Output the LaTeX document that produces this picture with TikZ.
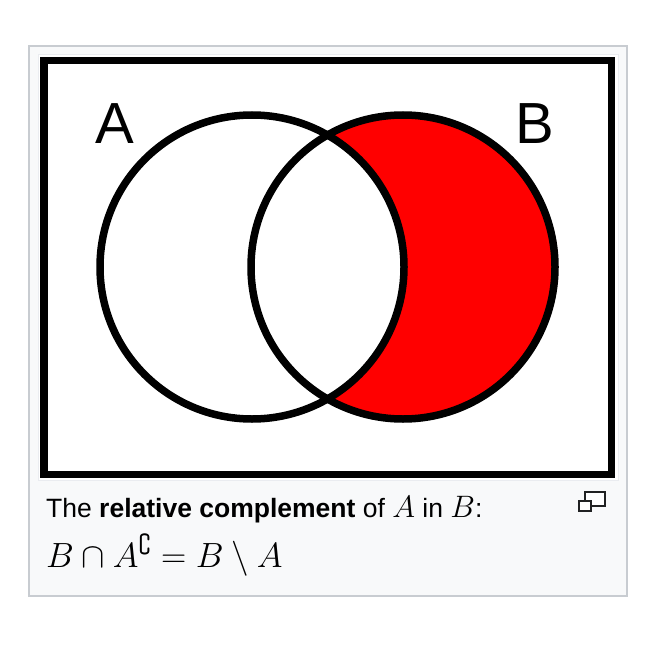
\RequirePackage{fix-cm}
\documentclass[tikz,border=0pt]{standalone}
\usepackage{amssymb}
\usepackage{fontspec}
\setmainfont{Liberation Sans}
\definecolor{framegray}{HTML}{C8CCD1}
\definecolor{capbg}{HTML}{F8F9FA}
\definecolor{imgline}{HTML}{EAECF0}
\definecolor{setred}{HTML}{FF0000}
\definecolor{icongray}{HTML}{202122}
\newcommand{\bigmath}[1]{{\fontsize{31}{31}\selectfont$#1$}}
\tikzset{
  setcircle/.style={draw=black, line width=7.5pt},
  setlabel/.style={font=\fontsize{58}{60}\selectfont, inner sep=0pt},
  captext/.style={font=\fontsize{26.5}{31}\selectfont, inner sep=0pt, anchor=base west},
  mathtext/.style={font=\fontsize{35}{38}\selectfont, inner sep=0pt, anchor=base west},
  iconbox/.style={draw=icongray, line width=2pt}
}
\begin{document}
\begin{tikzpicture}[x=1pt, y=-1pt]
\useasboundingbox (0,0) rectangle (656,671);
\fill[white] (0,0) rectangle (656,671);
% outer thumbnail frame
\draw[framegray, fill=capbg, line width=2pt] (29,46) rectangle (627,596);
\draw[imgline, fill=white, line width=1pt] (38,55) rectangle (618,480);
% black frame of the image
\draw[black, line width=7.5pt] (43.75,60.75) rectangle (611.25,474.25);
% Venn regions
\coordinate (ca) at (252,267);
\coordinate (cb) at (403,267);
\fill[setred] (cb) circle[radius=152];
\fill[white] (ca) circle[radius=152];
\draw[setcircle] (ca) circle[radius=152];
\draw[setcircle] (cb) circle[radius=152];
\node[setlabel] (la) at (115,124) {A};
\node[setlabel] (lb) at (535,124) {B};
% caption
\node[captext] (cap1) at (46,517) {The \textbf{relative complement} of \bigmath{A} in \bigmath{B}:};
\node[mathtext] (cap2) at (46,567) {$B\cap A^{\complement}=B\setminus A$};
% enlarge icon
\draw[iconbox, fill=white] (584.5,492) rectangle (605,505.5);
\draw[iconbox, fill=white] (579,501) rectangle (590.5,511);
\end{tikzpicture}
\end{document}
